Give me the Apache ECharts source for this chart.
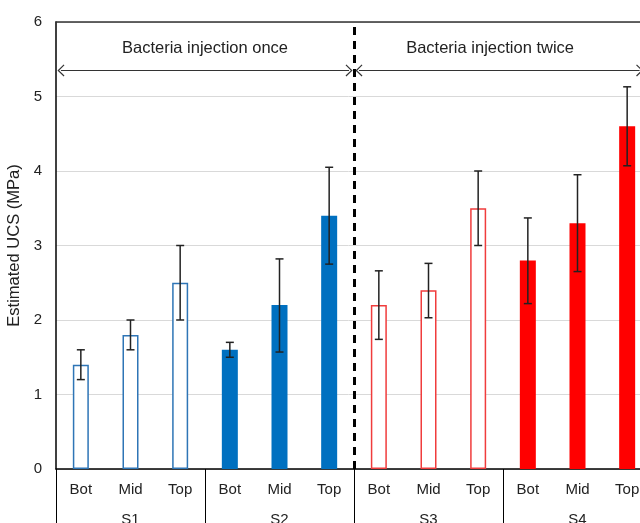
<!DOCTYPE html>
<html>
<head>
<meta charset="utf-8">
<script src="https://cdn.jsdelivr.net/npm/echarts@6/dist/echarts.min.js"></script>
<style>html,body{margin:0;padding:0;background:#fff}#c{width:640px;height:523px}</style>
</head>
<body>
<div id="c"></div>
<script>
var positions = ['Bot', 'Mid', 'Top'];
var groups = ['S1', 'S2', 'S3', 'S4'];
var categories = ['Bot', 'Mid', 'Top', 'Bot', 'Mid', 'Top', 'Bot', 'Mid', 'Top', 'Bot', 'Mid', 'Top'];
var ucsValues = [1.4, 1.8, 2.5, 1.6, 2.2, 3.4, 2.2, 2.4, 3.5, 2.8, 3.3, 4.6];
var errLow  = [1.2, 1.6, 2.0, 1.5, 1.57, 2.75, 1.74, 2.03, 3.0, 2.22, 2.65, 4.07];
var errHigh = [1.6, 2.0, 3.0, 1.7, 2.82, 4.05, 2.66, 2.76, 4.0, 3.37, 3.95, 5.13];
var yTicks = [0, 1, 2, 3, 4, 5, 6];
var injectionLabels = ['Bacteria injection once', 'Bacteria injection twice'];
var arrowLevel = 5.35;

var groupStyles = [
  {color: '#ffffff', borderColor: '#2E75B6', borderWidth: 1.5},
  {color: '#0070C0', borderColor: '#0070C0', borderWidth: 0},
  {color: '#ffffff', borderColor: '#F03C3C', borderWidth: 1.5},
  {color: '#FF0000', borderColor: '#FF0000', borderWidth: 0}
];

var nPos = positions.length;
var barData = ucsValues.map(function (v, i) {
  return {value: v, itemStyle: groupStyles[Math.floor(i / nPos)]};
});
var errData = ucsValues.map(function (v, i) { return [i, errLow[i], errHigh[i]]; });

var chev = 'path://M0,0 L10,10 L8.6,11.4 L0,2.8 L-8.6,11.4 L-10,10 Z';
var total = categories.length;
var half = nPos * 2;
var lblStyle = {show: true, position: 'insideMiddleTop', fontSize: 16.5, color: '#222', distance: 13};

var chart = echarts.init(document.getElementById('c'));
chart.setOption({
  animation: false,
  textStyle: {fontFamily: 'Liberation Sans, Arial, sans-serif'},
  grid: {left: 56, top: 22, right: -12, bottom: 54, containLabel: false, outerBoundsMode: 'none'},
  xAxis: [
    {
      type: 'category', data: categories, position: 'bottom',
      axisLine: {show: true, lineStyle: {color: '#000', width: 1.5}},
      axisTick: {show: false},
      axisLabel: {fontSize: 15, color: '#222', margin: 13}
    },
    {
      type: 'category', data: groups, position: 'bottom',
      axisLine: {show: false},
      axisTick: {show: true, length: 60, lineStyle: {color: '#000', width: 1}},
      axisLabel: {fontSize: 15, color: '#222', margin: 43}
    },
    {
      type: 'value', min: 0, max: total, position: 'top',
      axisLine: {show: true, lineStyle: {color: '#333', width: 1.5}},
      axisTick: {show: false}, axisLabel: {show: false}, splitLine: {show: false}
    }
  ],
  yAxis: {
    type: 'value', min: yTicks[0], max: yTicks[yTicks.length - 1], interval: 1,
    name: 'Estimated UCS (MPa)', nameLocation: 'middle', nameGap: 28,
    nameTextStyle: {fontSize: 16.5, color: '#222'},
    axisLine: {show: true, lineStyle: {color: '#000', width: 1.5}},
    axisTick: {show: false},
    axisLabel: {fontSize: 15, color: '#222', margin: 14},
    splitLine: {show: true, lineStyle: {color: '#d9d9d9', width: 1}}
  },
  series: [
    {
      type: 'bar', xAxisIndex: 0, data: barData, barWidth: 16, z: 2
    },
    {
      type: 'custom', xAxisIndex: 0, data: errData, z: 5,
      renderItem: function (params, api) {
        var lo = api.coord([api.value(0), api.value(1)]);
        var hi = api.coord([api.value(0), api.value(2)]);
        var w = 4;
        var st = {stroke: '#222', lineWidth: 1.5};
        return {type: 'group', children: [
          {type: 'line', shape: {x1: lo[0], y1: lo[1], x2: hi[0], y2: hi[1]}, style: st},
          {type: 'line', shape: {x1: lo[0] - w, y1: lo[1], x2: lo[0] + w, y2: lo[1]}, style: st},
          {type: 'line', shape: {x1: hi[0] - w, y1: hi[1], x2: hi[0] + w, y2: hi[1]}, style: st}
        ]};
      }
    },
    {
      type: 'line', xAxisIndex: 2, yAxisIndex: 0, data: [], silent: true, z: 6,
      markLine: {
        silent: true, animation: false, symbol: ['none', 'none'],
        label: {show: false},
        lineStyle: {color: '#333', width: 1, type: 'solid'},
        data: [
          {xAxis: half, symbol: 'none', lineStyle: {color: '#000', width: 3, type: [8, 6]}, label: {show: false}},
          [
            {coord: [0.1, arrowLevel], symbol: chev, symbolSize: [12, 7],
             label: Object.assign({formatter: injectionLabels[0]}, lblStyle)},
            {coord: [half - 0.1, arrowLevel], symbol: chev, symbolSize: [12, 7]}
          ],
          [
            {coord: [half + 0.1, arrowLevel], symbol: chev, symbolSize: [12, 7]},
            {coord: [total - 0.25, arrowLevel], symbol: chev, symbolSize: [12, 7]}
          ],
          [
            {coord: [half + 0.1, arrowLevel], symbol: 'none', lineStyle: {color: 'rgba(0,0,0,0)', width: 0},
             label: Object.assign({formatter: injectionLabels[1]}, lblStyle)},
            {coord: [total - 0.62, arrowLevel], symbol: 'none'}
          ]
        ]
      }
    }
  ]
});
</script>
</body>
</html>
